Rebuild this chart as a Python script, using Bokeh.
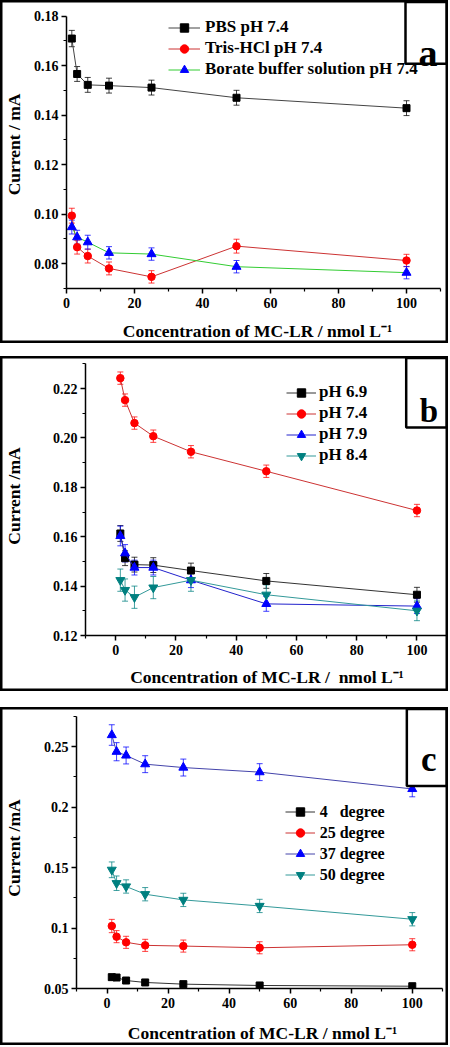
from bokeh.plotting import figure
from bokeh.models import (ColumnDataSource, Whisker, TeeHead, Legend, LegendItem,
                          FixedTicker, NumeralTickFormatter, Spacer)
from bokeh.core.properties import value
from bokeh.layouts import column
from bokeh.embed import file_html
from bokeh.resources import INLINE

FONT = "Liberation Serif"

# ---------------- data ----------------
conc = [1.5625, 3.125, 6.25, 12.5, 25, 50, 100]

# panel a : buffer type
a_names = ["PBS pH 7.4", "Tris-HCl pH 7.4", "Borate buffer solution pH 7.4"]
a_pbs = [0.1709, 0.1566, 0.1522, 0.1519, 0.1511, 0.1470, 0.1428]
a_pbs_err = [0.0033, 0.0030, 0.0030, 0.0030, 0.0030, 0.0030, 0.0030]
a_tris = [0.0994, 0.0867, 0.0831, 0.0781, 0.0747, 0.0871, 0.0813]
a_tris_err = [0.0030, 0.0028, 0.0028, 0.0026, 0.0025, 0.0028, 0.0025]
a_borate = [0.0948, 0.0907, 0.0887, 0.0844, 0.0839, 0.0788, 0.0764]
a_borate_err = [0.0028, 0.0028, 0.0028, 0.0025, 0.0025, 0.0025, 0.0025]

# panel b : pH
b_names = ["pH 6.9", "pH 7.4", "pH 7.9", "pH 8.4"]
b_ph69 = [0.1613, 0.1513, 0.1487, 0.1485, 0.1463, 0.1421, 0.1365]
b_ph69_err = [0.0032, 0.0030, 0.0030, 0.0030, 0.0030, 0.0030, 0.0030]
b_ph74 = [0.2242, 0.2153, 0.2060, 0.2007, 0.1944, 0.1865, 0.1706]
b_ph74_err = [0.0025, 0.0025, 0.0025, 0.0025, 0.0025, 0.0025, 0.0025]
b_ph79 = [0.1603, 0.1533, 0.1475, 0.1475, 0.1424, 0.1328, 0.1319]
b_ph79_err = [0.0040, 0.0035, 0.0030, 0.0030, 0.0030, 0.0030, 0.0030]
b_ph84 = [0.1424, 0.1384, 0.1355, 0.1394, 0.1424, 0.1365, 0.1300]
b_ph84_err = [0.0045, 0.0045, 0.0045, 0.0045, 0.0045, 0.0040, 0.0040]

# panel c : temperature
c_names = ["4\u00a0\u00a0\u00a0degree", "25 degree", "37 degree", "50 degree"]
c_t4 = [0.0594, 0.0591, 0.0566, 0.0550, 0.0536, 0.0525, 0.0519]
c_t4_err = [0.0020, 0.0020, 0.0020, 0.0020, 0.0020, 0.0020, 0.0020]
c_t25 = [0.1017, 0.0929, 0.0882, 0.0857, 0.0851, 0.0837, 0.0862]
c_t25_err = [0.0055, 0.0050, 0.0050, 0.0050, 0.0050, 0.0050, 0.0050]
c_t37 = [0.2597, 0.2459, 0.2428, 0.2356, 0.2328, 0.2290, 0.2151]
c_t37_err = [0.0085, 0.0075, 0.0070, 0.0070, 0.0070, 0.0070, 0.0065]
c_t50 = [0.1482, 0.1371, 0.1344, 0.1280, 0.1233, 0.1183, 0.1073]
c_t50_err = [0.0065, 0.0060, 0.0055, 0.0055, 0.0055, 0.0055, 0.0055]

x_major = [0, 20, 40, 60, 80, 100]
x_minor_a = [10, 30, 50, 70, 90, 110]
x_minor_bc = [-10, 10, 30, 50, 70, 90, 110]
a_yticks = [0.08, 0.10, 0.12, 0.14, 0.16, 0.18]
a_yminor = [0.07, 0.09, 0.11, 0.13, 0.15, 0.17]
b_yticks = [0.12, 0.14, 0.16, 0.18, 0.20, 0.22]
b_yminor = [0.13, 0.15, 0.17, 0.19, 0.21, 0.23]
c_yticks = [0.05, 0.10, 0.15, 0.20, 0.25]
c_yminor = [0.075, 0.125, 0.175, 0.225, 0.275]

x_title = "Concentration of MC-LR / nmol L\u207b\u00b9"
x_title_b = "Concentration of MC-LR /\u00a0 nmol L\u207b\u00b9"

W = 448


def make_panel(cfg):
    H, left, bot = cfg["H"], cfg["left"], cfg["bot"]
    fw, fh = W - left, H - bot
    p = figure(width=W, height=H, x_range=cfg["xr"], y_range=cfg["yr"],
               output_backend="svg", toolbar_location=None, title=None,
               min_border_left=left, min_border_right=0, min_border_top=0,
               min_border_bottom=bot)
    p.styles = {"box-shadow": "inset 0 0 0 2.5px #000000"}
    p.outline_line_color = None
    p.background_fill_alpha = 0
    p.border_fill_alpha = 0
    p.xgrid.visible = False
    p.ygrid.visible = False
    for ax, b, maj, mnr in ((p.xaxis, cfg["xb"], x_major, cfg["xminor"]),
                            (p.yaxis, cfg["yb"], cfg["yticks"], cfg["yminor"])):
        ax.bounds = b
        ax.ticker = FixedTicker(ticks=maj, minor_ticks=mnr)
        ax.axis_line_width = 1.5
        ax.axis_line_color = "black"
        ax.major_tick_line_width = 1.5
        ax.minor_tick_line_width = 1.2
        ax.major_tick_in = 0
        ax.major_tick_out = 5
        ax.minor_tick_in = 0
        ax.minor_tick_out = 3
        ax.major_label_text_font = FONT
        ax.major_label_text_font_style = "bold"
        ax.major_label_text_font_size = "14px"
        ax.major_label_text_color = "black"
        ax.axis_label_text_font = FONT
        ax.axis_label_text_font_style = "bold"
        ax.axis_label_text_font_size = "17.5px"
        ax.axis_label_text_color = "black"
    p.xaxis.major_label_standoff = 4
    p.yaxis.major_label_standoff = 3
    p.yaxis.formatter = NumeralTickFormatter(format=cfg["yfmt"])
    p.xaxis.formatter = NumeralTickFormatter(format="0")
    p.xaxis.axis_label = cfg["xtitle"]
    p.xaxis.axis_label_standoff = cfg["xstand"]
    p.yaxis.axis_label = cfg["ytitle"]
    p.yaxis.axis_label_standoff = cfg["ystand"]

    items = []
    for name, vals, errs, marker, size, mcol, lcol in cfg["series"]:
        src = ColumnDataSource(dict(
            x=conc, y=vals,
            upper=[v + e for v, e in zip(vals, errs)],
            lower=[v - e for v, e in zip(vals, errs)]))
        w = Whisker(source=src, base="x", upper="upper", lower="lower",
                    dimension="height", line_color=mcol, line_alpha=0.75, line_width=1,
                    upper_head=TeeHead(size=6, line_color=mcol, line_alpha=0.75, line_width=1),
                    lower_head=TeeHead(size=6, line_color=mcol, line_alpha=0.75, line_width=1))
        p.add_layout(w)
        lr = p.line("x", "y", source=src, line_color=lcol, line_width=1)
        sr = p.scatter("x", "y", source=src, marker=marker, size=size,
                       fill_color=mcol, line_color=mcol)
        items.append(LegendItem(label=name, renderers=[lr, sr]))

    lg = Legend(items=items, location=cfg["leg_loc"], orientation="vertical",
                glyph_width=cfg["glyph_w"], glyph_height=21, label_height=21,
                label_standoff=cfg["standoff"], spacing=0, padding=0, margin=0,
                border_line_color=None, background_fill_alpha=0,
                label_text_font=FONT, label_text_font_style="bold",
                label_text_font_size=cfg["leg_fs"], label_text_color="black")
    p.add_layout(lg)

    # letter box in the upper right corner (layout positions in panel pixels)
    x0, x1 = cfg["xr"]
    y0, y1 = cfg["yr"]
    bl, br, bt, bb = cfg["box"]

    def xd(sx):
        return x0 + (sx - left) * (x1 - x0) / fw

    def yd(sy):
        return y1 - sy * (y1 - y0) / fh

    p.quad(left=[xd(bl)], right=[xd(br)], top=[yd(bt)], bottom=[yd(bb)],
           fill_color="white", line_color="black", line_width=2.5)
    p.text(x=[xd(cfg["letter_x"])], y=[yd(cfg["letter_base"])], text=[cfg["letter"]],
           text_font=value(FONT), text_font_style="bold", text_font_size=cfg["letter_fs"],
           text_align="center", text_baseline="alphabetic", text_color="black")
    return p


pa = make_panel(dict(
    H=343, left=66, bot=52, xr=(0, 112.35), xb=(0, 110), xminor=x_minor_a,
    yr=(0.07, 0.18626), yb=(0.07, 0.18), yticks=a_yticks, yminor=a_yminor, yfmt="0.00",
    series=[(a_names[0], a_pbs, a_pbs_err, "square", 7, "black", "#444444"),
            (a_names[1], a_tris, a_tris_err, "circle", 7.5, "red", "#cc3333"),
            (a_names[2], a_borate, a_borate_err, "triangle", 9, "blue", "#33cc33")],
    leg_loc=(102, 208.5), glyph_w=32, standoff=5, leg_fs="17px",
    box=(405, 446, 1.5, 64), letter="a", letter_x=427.5, letter_base=53,
    letter_fs="38px",
    ytitle="Current / mA", ystand=7, xtitle=x_title, xstand=10))

pb = make_panel(dict(
    H=335, left=79, bot=56, xr=(-10, 110.47), xb=(-10, 110), xminor=x_minor_bc,
    yr=(0.12, 0.23296), yb=(0.12, 0.23), yticks=b_yticks, yminor=b_yminor, yfmt="0.00",
    series=[(b_names[0], b_ph69, b_ph69_err, "square", 7, "black", "#333333"),
            (b_names[1], b_ph74, b_ph74_err, "circle", 7.5, "red", "#cc3333"),
            (b_names[2], b_ph79, b_ph79_err, "triangle", 9, "blue", "#2222cc"),
            (b_names[3], b_ph84, b_ph84_err, "inverted_triangle", 9, "#008080", "#339999")],
    leg_loc=(201, 169.2), glyph_w=30, standoff=3, leg_fs="17px",
    box=(405, 446, 1.5, 71), letter="b", letter_x=428, letter_base=54,
    letter_fs="33px",
    ytitle="Current /mA", ystand=26, xtitle=x_title_b, xstand=9))

pc = make_panel(dict(
    H=338, left=73, bot=56, xr=(-10, 111.87), xb=(-10, 110), xminor=x_minor_bc,
    yr=(0.05, 0.28248), yb=(0.05, 0.275), yticks=c_yticks, yminor=c_yminor, yfmt="0.0[0]",
    series=[(c_names[0], c_t4, c_t4_err, "square", 7, "black", "#333333"),
            (c_names[1], c_t25, c_t25_err, "circle", 7.5, "red", "#cc3333"),
            (c_names[2], c_t37, c_t37_err, "triangle", 9, "blue", "#4444aa"),
            (c_names[3], c_t50, c_t50_err, "inverted_triangle", 9, "#008080", "#339999")],
    leg_loc=(208.7, 102.8), glyph_w=30, standoff=5, leg_fs="16px",
    box=(406, 446, 1.5, 78.7), letter="c", letter_x=428, letter_base=52.3,
    letter_fs="35px",
    ytitle="Current /mA", ystand=17, xtitle=x_title, xstand=12))

layout = column(column(pa), Spacer(height=13), column(pb), Spacer(height=16), column(pc),
                spacing=0)
open("out.html", "w").write(file_html(layout, INLINE))
